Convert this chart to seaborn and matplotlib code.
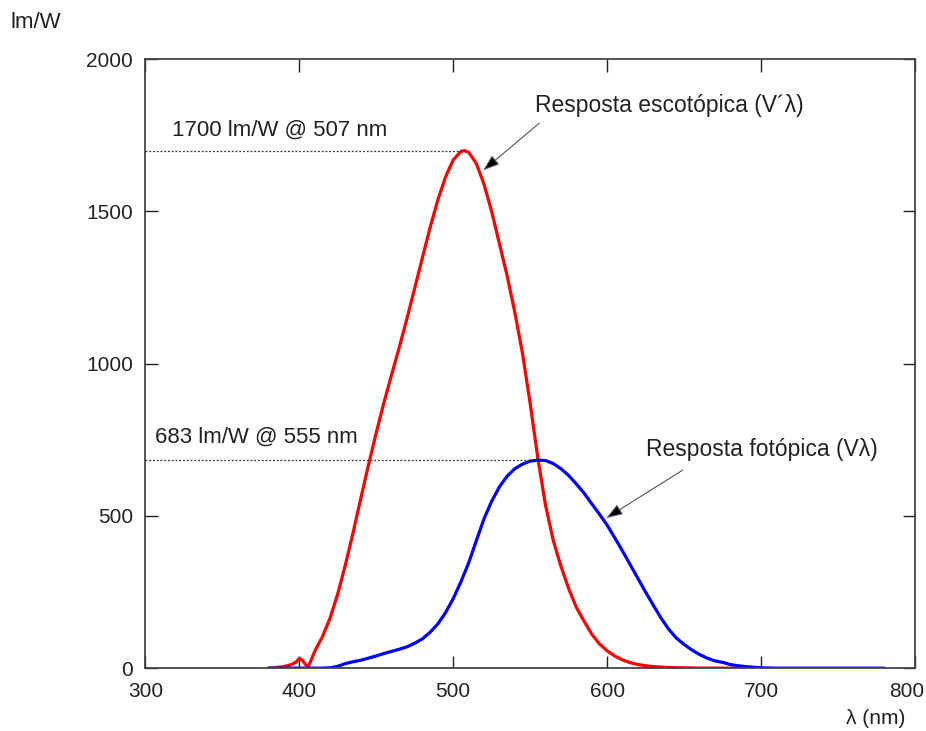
import pandas as pd
import matplotlib.pyplot as plt
import matplotlib.transforms as mtransforms
import seaborn as sns

# scotopic response V'(lambda), lm/W
red_nm = [380, 385, 390, 395, 398, 400, 402, 404, 406, 408, 410, 415, 420, 425, 430, 435,
          440, 445, 450, 455, 460, 465, 470, 475, 480, 485, 490, 495, 500, 505, 507, 510,
          515, 520, 525, 530, 535, 540, 545, 550, 555, 560, 565, 570, 575, 580, 585, 590,
          595, 600, 605, 610, 615, 620, 625, 630, 640, 650, 660, 680, 700]
red_val = [0, 2, 5, 12, 20, 32, 26, 12, 6, 30, 55, 103, 164, 244, 340, 446,
           558, 668, 773, 872, 964, 1054, 1149, 1248, 1348, 1447, 1537, 1613, 1669, 1697, 1700, 1695,
           1658, 1590, 1500, 1395, 1290, 1170, 1035, 870, 690, 535, 420, 335, 262, 200, 155, 112,
           80, 57, 40, 27, 18, 12, 8, 5, 2, 1, 0, 0, 0]

# photopic response V(lambda), lm/W
blue_nm = [380, 390, 400, 410, 415, 420, 425, 430, 435, 440, 445, 450, 455, 460, 465, 470,
           475, 480, 485, 490, 495, 500, 505, 510, 515, 520, 525, 530, 535, 540, 545, 550,
           555, 560, 565, 570, 575, 580, 585, 590, 595, 600, 605, 610, 615, 620, 625, 630,
           635, 640, 645, 650, 655, 660, 665, 670, 675, 680, 685, 690, 695, 700, 710, 740, 780]
blue_val = [0, 0, 0, 0, 0, 1, 6, 15, 21, 26, 33, 40, 48, 55, 62, 70,
            82, 96, 118, 145, 182, 228, 283, 345, 418, 490, 548, 595, 630, 655, 670, 680,
            683, 682, 672, 655, 633, 605, 575, 540, 506, 470, 428, 385, 340, 295, 250, 207,
            165, 128, 99, 78, 60, 45, 33, 24, 19, 12, 8, 5, 3, 1, 0, 0, 0]

x_ticks = [300, 400, 500, 600, 700, 800]
y_ticks = [0, 500, 1000, 1500, 2000]

red_df = pd.DataFrame({"nm": red_nm, "lmW": red_val})
blue_df = pd.DataFrame({"nm": blue_nm, "lmW": blue_val})

sns.set_style("white")
plt.rcParams["font.family"] = ["Liberation Sans", "DejaVu Sans"]

fig = plt.figure(figsize=(9.26, 7.31), dpi=100)
ax = fig.add_axes([0.157, 0.086, 0.831, 0.833])

sns.lineplot(data=red_df, x="nm", y="lmW", color="#ff0000", linewidth=2.3, ax=ax)
sns.lineplot(data=blue_df, x="nm", y="lmW", color="#0000ff", linewidth=2.3, ax=ax)
for ln in ax.lines:
    ln.set_solid_joinstyle("round")
    ln.set_solid_capstyle("round")

# dotted reference lines to the peaks
ax.plot([300, 507], [1700, 1700], color="#333333", linestyle=(0, (1.5, 1.5)), linewidth=0.9)
ax.plot([300, 555], [683, 683], color="#333333", linestyle=(0, (1.5, 1.5)), linewidth=0.9)

ax.text(317, 1767, "1700 lm/W @ 507 nm", fontsize=16, va="center", ha="left", color="#222222")
ax.text(306, 758, "683 lm/W @ 555 nm", fontsize=16, va="center", ha="left", color="#222222")

arrow = dict(arrowstyle="-|>,head_length=1.0,head_width=0.35", ec="#555555", fc="black", lw=0.8,
             shrinkA=0, shrinkB=0)
ax.annotate("", xy=(519.5, 1635), xytext=(556, 1790), arrowprops=arrow)
ax.annotate("", xy=(599.5, 493), xytext=(649, 650), arrowprops=arrow)
ax.text(553, 1849, "Resposta escotópica (V´λ)", fontsize=16.5, va="center", ha="left", color="#222222")
ax.text(625, 719, "Resposta fotópica (Vλ)", fontsize=16.5, va="center", ha="left", color="#222222")

ax.set_xlim(300, 800)
ax.set_ylim(0, 2000)
ax.set_xticks(x_ticks)
ax.set_yticks(y_ticks)
ax.set_xlabel("")
ax.set_ylabel("")
ax.tick_params(direction="in", length=9, width=1, colors="#222222", labelsize=15,
               top=True, right=True, bottom=True, left=True, pad=9)
ax.tick_params(axis="x", pad=10)
for side in ax.spines.values():
    side.set_color("#444444")
    side.set_linewidth(1.3)

# last x label sits slightly left of its tick in the original
last = ax.get_xticklabels()[-1]
last.set_transform(last.get_transform() + mtransforms.ScaledTranslation(-8 / 100, 0, fig.dpi_scale_trans))

fig.text(10 / 926, 1 - 22 / 731, "lm/W", fontsize=16, va="center", ha="left", color="#222222")
fig.text(905 / 926, 1 - 718 / 731, "λ (nm)", fontsize=15, va="center", ha="right", color="#222222")

plt.savefig("out.png", dpi=100, facecolor="white")
